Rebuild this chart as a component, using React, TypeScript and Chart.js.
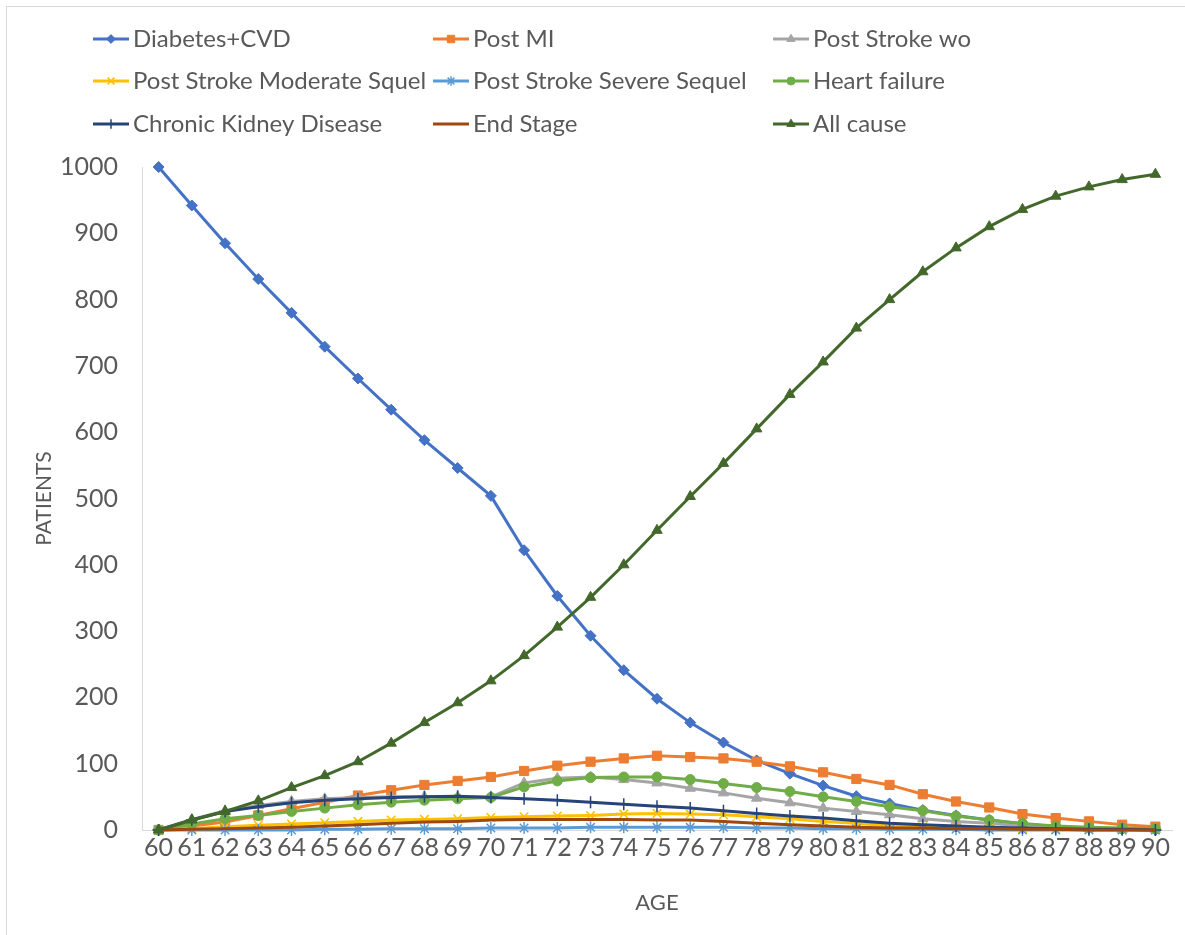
import { useEffect, useRef } from 'react';
import { Chart, registerables } from 'chart.js';
import { drawPoint } from 'chart.js/helpers';

Chart.register(...registerables);

// Age categories on the horizontal axis
const ages = [
  '60', '61', '62', '63', '64', '65', '66', '67', '68', '69', '70',
  '71', '72', '73', '74', '75', '76', '77', '78', '79', '80',
  '81', '82', '83', '84', '85', '86', '87', '88', '89', '90',
];

// Patients per health state at each age
const diabetesCvd = [1000, 942, 885, 831, 780, 729, 681, 634, 588, 546, 504, 422, 353, 293, 241, 198, 162, 132, 105, 85, 67, 51, 40, 30, 22, 15, 9, 5, 3, 1, 0];
const postMi = [0, 6, 12, 22, 32, 42, 52, 60, 68, 74, 80, 89, 97, 103, 108, 112, 110, 108, 103, 96, 87, 77, 68, 54, 43, 34, 24, 18, 13, 8, 5];
const postStrokeWo = [0, 16, 29, 37, 43, 47, 49, 50, 50, 50, 50, 71, 78, 80, 76, 71, 63, 56, 48, 41, 33, 28, 23, 17, 13, 10, 6, 4, 2, 1, 1];
const postStrokeModerate = [0, 2, 5, 7, 9, 11, 13, 15, 16, 17, 19, 20, 21, 22, 24, 25, 24, 23, 20, 17, 13, 10, 6, 5, 4, 3, 2, 1, 1, 0, 0];
const postStrokeSevere = [0, 0, 0, 0, 0, 1, 1, 2, 2, 2, 3, 3, 3, 4, 4, 4, 4, 4, 3, 3, 2, 2, 1, 1, 1, 0, 0, 0, 0, 0, 0];
const heartFailure = [0, 9, 17, 22, 28, 33, 38, 42, 45, 47, 49, 65, 74, 79, 80, 80, 76, 70, 64, 58, 50, 43, 35, 29, 21, 15, 10, 6, 4, 3, 2];
const chronicKidney = [0, 15, 28, 35, 41, 45, 47, 49, 50, 51, 49, 47, 45, 42, 39, 36, 33, 29, 25, 21, 18, 14, 10, 8, 6, 4, 3, 2, 1, 1, 0];
const endStage = [0, 1, 2, 3, 4, 6, 8, 10, 12, 13, 15, 16, 16, 16, 16, 15, 15, 13, 10, 8, 6, 4, 3, 3, 2, 2, 1, 1, 0, 0, 0];
const allCause = [0, 15, 28, 44, 64, 82, 103, 131, 162, 192, 225, 263, 306, 351, 400, 452, 503, 553, 605, 657, 706, 757, 800, 842, 878, 910, 936, 956, 970, 981, 989];

const FONT = 'Lato, "Open Sans", sans-serif';
const TEXT = '#595959';
const AXIS_LINE = '#d9d9d9';

const series = [
  { label: 'Diabetes+CVD', data: diabetesCvd, color: '#4472C4', style: 'rectRot', r: 5.5 },
  { label: 'Post MI', data: postMi, color: '#ED7D31', style: 'rect', r: 6.5 },
  { label: 'Post Stroke wo', data: postStrokeWo, color: '#A5A5A5', style: 'triangle', r: 6 },
  { label: 'Post Stroke Moderate Squel', data: postStrokeModerate, color: '#FFC000', style: 'crossRot', r: 6 },
  { label: 'Post Stroke Severe Sequel', data: postStrokeSevere, color: '#5B9BD5', style: 'star', r: 6 },
  { label: 'Heart failure', data: heartFailure, color: '#70AD47', style: 'circle', r: 5 },
  { label: 'Chronic Kidney Disease', data: chronicKidney, color: '#264478', style: 'cross', r: 6 },
  { label: 'End Stage', data: endStage, color: '#9E480E', style: 'circle', r: 0 },
  { label: 'All cause', data: allCause, color: '#43682B', style: 'triangle', r: 6 },
];

const strokeOnly = new Set(['cross', 'crossRot', 'star']);

// Three-column legend laid out above the plot area
const legendCols = [93, 433, 773];
const legendRows = [39, 81, 124];

const gridLegend = {
  id: 'gridLegend',
  afterDraw(chart: any) {
    const ctx = chart.ctx as CanvasRenderingContext2D;
    ctx.save();
    series.forEach((s, i) => {
      const x0 = legendCols[i % 3];
      const y = legendRows[Math.floor(i / 3)];
      ctx.strokeStyle = s.color;
      ctx.lineWidth = 3;
      ctx.beginPath();
      ctx.moveTo(x0, y);
      ctx.lineTo(x0 + 36, y);
      ctx.stroke();
      if (s.r > 0) {
        const bw = strokeOnly.has(s.style) ? 1.5 : 1;
        ctx.fillStyle = s.color;
        ctx.strokeStyle = s.color;
        ctx.lineWidth = bw;
        drawPoint(ctx, { pointStyle: s.style as any, rotation: 0, radius: s.r * 0.8, borderWidth: bw }, x0 + 18, y);
      }
      ctx.fillStyle = TEXT;
      ctx.font = `24px ${FONT}`;
      ctx.textAlign = 'left';
      ctx.textBaseline = 'middle';
      ctx.fillText(s.label, x0 + 40, y);
    });
    ctx.restore();
  },
};

export default function App() {
  const canvasRef = useRef<HTMLCanvasElement | null>(null);

  useEffect(() => {
    const canvas = canvasRef.current;
    if (!canvas) return;
    const n = series.length;
    const chart = new Chart(canvas, {
      type: 'line',
      data: {
        labels: ages,
        datasets: series.map((s, i) => ({
          label: s.label,
          data: s.data,
          borderColor: s.color,
          backgroundColor: s.color,
          borderWidth: 3,
          pointStyle: s.style as any,
          pointRadius: s.r,
          pointHoverRadius: s.r,
          pointBackgroundColor: s.color,
          pointBorderColor: s.color,
          pointBorderWidth: strokeOnly.has(s.style) ? 1.5 : 1,
          tension: 0,
          clip: false as any,
          order: n - i,
        })),
      },
      options: {
        responsive: false,
        animation: false,
        devicePixelRatio: 1,
        layout: { padding: { top: 167, right: 13, left: 0, bottom: 0 } },
        plugins: {
          legend: { display: false },
          tooltip: { enabled: false },
        },
        scales: {
          x: {
            type: 'category',
            offset: true,
            grid: { display: false, drawTicks: false },
            border: { display: true, color: AXIS_LINE, width: 1 },
            ticks: {
              autoSkip: false,
              maxRotation: 0,
              minRotation: 0,
              color: TEXT,
              padding: 3,
              font: { family: FONT, size: 25 },
            },
            title: {
              display: true,
              text: 'AGE',
              color: TEXT,
              font: { family: FONT, size: 22 },
              padding: { top: 0, bottom: 19 },
            },
            afterFit: (scale: any) => {
              scale.height = 105;
            },
          },
          y: {
            min: 0,
            max: 1000,
            grid: { display: false, drawTicks: false },
            border: { display: true, color: AXIS_LINE, width: 1 },
            ticks: {
              stepSize: 100,
              color: TEXT,
              padding: 24,
              font: { family: FONT, size: 25 },
              callback: (v: any) => String(v),
            },
            title: {
              display: true,
              text: 'PATIENTS',
              color: TEXT,
              font: { family: FONT, size: 21 },
              padding: { top: 32, bottom: 0 },
            },
            afterFit: (scale: any) => {
              scale.width = 142;
            },
          },
        },
      },
      plugins: [gridLegend],
    });
    return () => chart.destroy();
  }, []);

  return (
    <div style={{ position: 'fixed', inset: 0, overflow: 'hidden', background: '#ffffff' }}>
      <div
        style={{
          position: 'absolute',
          left: 6,
          top: 6,
          width: 1300,
          height: 1100,
          border: `1px solid ${AXIS_LINE}`,
        }}
      />
      <canvas
        ref={canvasRef}
        width={1185}
        height={935}
        style={{ position: 'absolute', left: 0, top: 0, width: 1185, height: 935 }}
      />
    </div>
  );
}
